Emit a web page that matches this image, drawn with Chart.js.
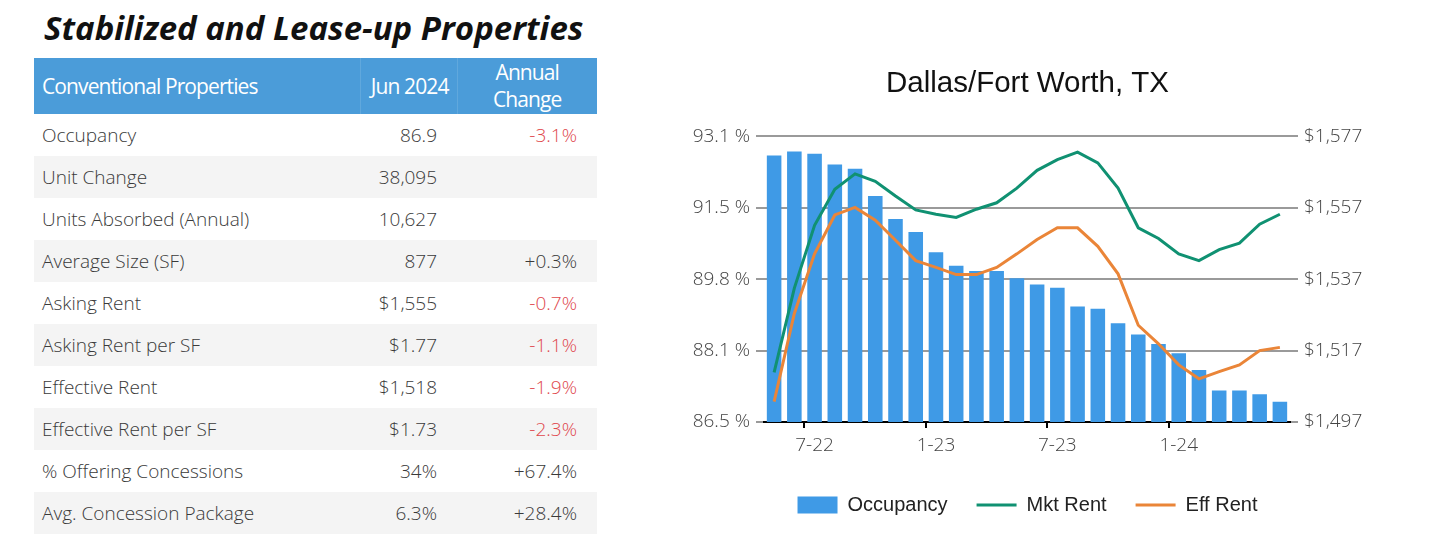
<!DOCTYPE html>
<html>
<head>
<meta charset="utf-8">
<script src="https://cdn.jsdelivr.net/npm/chart.js@4.4.1/dist/chart.umd.min.js"></script>
<style>
  html, body { margin: 0; padding: 0; background: #fff; overflow: hidden; }
  body { width: 1431px; height: 537px; position: relative; font-family: "Open Sans", sans-serif; }
  .heading {
    position: absolute; left: 44px; top: 5px;
    font-size: 33px; font-weight: bold; font-style: italic; color: #111;
    line-height: 46px; white-space: nowrap;
  }
  table.stats {
    position: absolute; left: 34px; top: 58px; width: 563px;
    border-collapse: collapse; table-layout: fixed;
  }
  .stats th {
    background: #4b9cd9; color: #fff; font-weight: normal;
    font-size: 21px; letter-spacing: -0.9px; line-height: 27px;
    height: 56px; padding: 0 8px; box-sizing: border-box;
  }
  .stats th + th { border-left: 1px solid rgba(255,255,255,0.12); }
  .stats th:first-child { text-align: left; }
  .stats td {
    font-size: 19px; font-weight: 300; color: #3a3a3a; height: 42px; padding: 0 20px 0 8px;
    box-sizing: border-box; white-space: nowrap;
  }
  .stats td:first-child { text-align: left; }
  .stats td.num { text-align: right; }
  .stats tr:nth-child(even) td { background: #f4f4f4; }
  .stats td.neg { color: #e0474c; }
  .chart-box { position: absolute; left: 660px; top: 50px; width: 735px; height: 475px; }
</style>
</head>
<body>
<div class="heading">Stabilized and Lease-up Properties</div>
<table class="stats" id="stats">
  <colgroup><col style="width:326px"><col style="width:97px"><col style="width:140px"></colgroup>
  <thead>
    <tr><th>Conventional Properties</th><th style="text-align:right">Jun 2024</th><th style="text-align:center">Annual<br>Change</th></tr>
  </thead>
  <tbody></tbody>
</table>
<div class="chart-box"><canvas id="chart"></canvas></div>

<script>
// table rows
const rowNames = ['Occupancy', 'Unit Change', 'Units Absorbed (Annual)', 'Average Size (SF)', 'Asking Rent',
  'Asking Rent per SF', 'Effective Rent', 'Effective Rent per SF', '% Offering Concessions', 'Avg. Concession Package'];
const rowValues = ['86.9', '38,095', '10,627', '877', '$1,555', '$1.77', '$1,518', '$1.73', '34%', '6.3%'];
const rowChanges = ['-3.1%', '', '', '+0.3%', '-0.7%', '-1.1%', '-1.9%', '-2.3%', '+67.4%', '+28.4%'];

// chart data
const months = ['5-22', '6-22', '7-22', '8-22', '9-22', '10-22', '11-22', '12-22',
  '1-23', '2-23', '3-23', '4-23', '5-23', '6-23', '7-23', '8-23', '9-23', '10-23', '11-23', '12-23',
  '1-24', '2-24', '3-24', '4-24', '5-24', '6-24'];
const occupancy = [92.66, 92.75, 92.7, 92.45, 92.35, 91.72, 91.19, 90.89, 90.42, 90.11, 89.99, 89.99, 89.82,
  89.68, 89.6, 89.17, 89.12, 88.78, 88.52, 88.3, 88.09, 87.7, 87.23, 87.23, 87.14, 86.97];
const mktRent = [1510.9, 1534.5, 1552.1, 1562.2, 1566.5, 1564.4, 1560.3, 1556.4, 1555.2, 1554.3, 1556.6, 1558.4,
  1562.5, 1567.5, 1570.5, 1572.6, 1569.6, 1562.5, 1551.4, 1548.4, 1544.1, 1542.2, 1545.3, 1547.1, 1552.4, 1555.2];
const effRent = [1502.7, 1527.4, 1544.1, 1555.0, 1557.1, 1553.5, 1547.9, 1542.2, 1540.3, 1538.3, 1538.3, 1540.3,
  1544.1, 1548.1, 1551.4, 1551.4, 1546.2, 1538.5, 1524.1, 1518.9, 1513.0, 1509.1, 1511.1, 1513.0, 1517.0, 1517.9];
const occTicks = [86.5, 88.15, 89.8, 91.45, 93.1];
const occTickLabels = ['86.5 %', '88.1 %', '89.8 %', '91.5 %', '93.1 %'];
const rentTicks = [1497, 1517, 1537, 1557, 1577];
const rentTickLabels = ['$1,497', '$1,517', '$1,537', '$1,557', '$1,577'];
const shownMonths = ['7-22', '1-23', '7-23', '1-24'];

const tbody = document.querySelector('#stats tbody');
rowNames.forEach((name, i) => {
  const tr = document.createElement('tr');
  const ch = rowChanges[i];
  tr.innerHTML = '<td>' + name + '</td><td class="num">' + rowValues[i] + '</td>' +
    '<td class="num' + (ch.startsWith('-') ? ' neg' : '') + '">' + ch + '</td>';
  tbody.appendChild(tr);
});

const tickFont = { family: '"Open Sans", sans-serif', size: 19, weight: 300 };

new Chart(document.getElementById('chart'), {
  data: {
    labels: months,
    datasets: [
      {
        type: 'bar', label: 'Occupancy', data: occupancy, yAxisID: 'yOcc',
        backgroundColor: '#3f9ae6', borderWidth: 0, order: 1, pointStyle: 'rect',
        categoryPercentage: 1, barPercentage: 0.72
      },
      {
        type: 'line', label: 'Mkt Rent', data: mktRent, yAxisID: 'yRent',
        borderColor: '#109172', backgroundColor: '#109172', borderWidth: 3,
        pointRadius: 0, tension: 0, order: 0, pointStyle: 'line'
      },
      {
        type: 'line', label: 'Eff Rent', data: effRent, yAxisID: 'yRent',
        borderColor: '#ea8538', backgroundColor: '#ea8538', borderWidth: 3,
        pointRadius: 0, tension: 0, order: 0, pointStyle: 'line'
      }
    ]
  },
  options: {
    responsive: true,
    maintainAspectRatio: false,
    animation: false,
    layout: { padding: 0 },
    plugins: {
      title: {
        display: true, text: 'Dallas/Fort Worth, TX', color: '#111',
        font: { family: '"Liberation Sans", Arial, sans-serif', size: 29.5, weight: 'normal' },
        padding: { top: 16, bottom: 35 }
      },
      legend: {
        position: 'bottom',
        labels: {
          usePointStyle: true, pointStyleWidth: 40, boxHeight: 17,
          padding: 29, color: '#222',
          font: { family: '"Liberation Sans", Arial, sans-serif', size: 20 },
          sort: (a, b) => a.datasetIndex - b.datasetIndex
        }
      },
      tooltip: { enabled: false }
    },
    scales: {
      x: {
        afterFit: (scale) => { scale.height = 44; },
        grid: {
          drawOnChartArea: false, tickLength: 6, lineWidth: 2,
          color: (ctx) => shownMonths.includes(months[ctx.index]) ? '#000' : 'rgba(0,0,0,0)'
        },
        border: { color: '#000', width: 2 },
        ticks: {
          autoSkip: false, maxRotation: 0, padding: 6, color: '#444', font: tickFont,
          callback: (v, i) => shownMonths.includes(months[i]) ? months[i] : ''
        }
      },
      yOcc: {
        position: 'left', min: 86.5, max: 93.1,
        afterFit: (scale) => { scale.width = 104; },
        afterBuildTicks: (scale) => { scale.ticks = occTicks.map(v => ({ value: v })); },
        grid: { color: '#9a9a9a', lineWidth: 2, tickLength: 8 },
        border: { display: false },
        ticks: { padding: 6, color: '#444', font: tickFont, callback: (v, i) => occTickLabels[i] }
      },
      yRent: {
        position: 'right', min: 1497, max: 1577,
        afterFit: (scale) => { scale.width = 105; },
        afterBuildTicks: (scale) => { scale.ticks = rentTicks.map(v => ({ value: v })); },
        grid: { color: '#9a9a9a', lineWidth: 2, tickLength: 8, drawOnChartArea: true },
        border: { display: false },
        ticks: { padding: 6, color: '#444', font: tickFont, callback: (v, i) => rentTickLabels[i] }
      }
    }
  }
});
</script>
</body>
</html>
